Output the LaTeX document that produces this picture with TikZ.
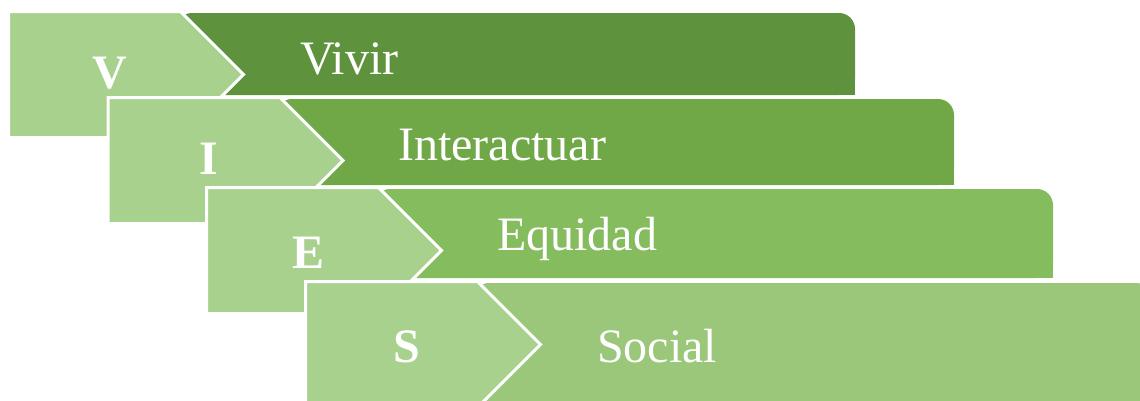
\documentclass[tikz,border=0pt]{standalone}
\usepackage{fontspec}
\setmainfont{Liberation Serif}
\usepackage{xcolor}
\definecolor{vieLight}{RGB}{169, 209, 142}
\definecolor{vieRowA}{RGB}{94, 146, 60}
\definecolor{vieRowB}{RGB}{112, 168, 71}
\definecolor{vieRowC}{RGB}{133, 188, 94}
\definecolor{vieRowD}{RGB}{155, 199, 122}
\definecolor{vieWhite}{RGB}{255, 255, 255}

\tikzset{
  chevronbox/.style={fill=vieLight, draw=vieWhite, line width=3pt, line join=miter},
  letter/.style={text=vieWhite, font=\fontsize{48}{58}\selectfont\bfseries, inner sep=0pt, anchor=base},
  word/.style={text=vieWhite, font=\fontsize{48}{58}\selectfont, inner sep=0pt, anchor=base west}
}

\begin{document}
\begin{tikzpicture}[x=1pt, y=-1pt]
            \useasboundingbox (0,0) rectangle (1140,400);
            \clip (0,0) rectangle (1140,400);

            % Row V
            \fill[vieRowA, rounded corners=16pt] (176,13) rectangle (855,95);
            \fill[vieRowA] (176,40) rectangle (855,95);
            \draw[chevronbox] (8.5,11.5) -- (180.5,11.5) -- (243.5,74.5) -- (180.5,137.5) -- (8.5,137.5) -- cycle;
            \node[letter] (v) at (110,88) {V};
            \node[word] (vivir) at (300,74) {Vivir};

            % Row I
            \fill[vieRowB, rounded corners=16pt] (276,99) rectangle (954,185);
            \fill[vieRowB] (276,130) rectangle (954,185);
            \draw[chevronbox] (108,97.5) -- (280,97.5) -- (343,160.5) -- (280,223.5) -- (108,223.5) -- cycle;
            \node[letter] (i) at (209,174) {I};
            \node[word] (interactuar) at (398,160) {Interactuar};

            % Row E
            \fill[vieRowC, rounded corners=16pt] (374,189) rectangle (1053,278);
            \fill[vieRowC] (374,220) rectangle (1053,278);
            \draw[chevronbox] (206.5,187.5) -- (378.5,187.5) -- (441.5,250.5) -- (378.5,313.5) -- (206.5,313.5) -- cycle;
            \node[letter] (e) at (309,268) {E};
            \node[word] (equidad) at (497,250) {Equidad};

            % Row S
            \fill[vieRowD, rounded corners=16pt] (473,283) rectangle (1152,401);
            \fill[vieRowD] (473,320) rectangle (1152,401);
            \draw[chevronbox] (305.5,281.5) -- (477.5,281.5) -- (540.5,344.5) -- (477.5,407.5) -- (305.5,407.5) -- cycle;
            \node[letter] (s) at (407,362) {S};
            \node[word] (social) at (597,362) {Social};
        \end{tikzpicture}
\end{document}
